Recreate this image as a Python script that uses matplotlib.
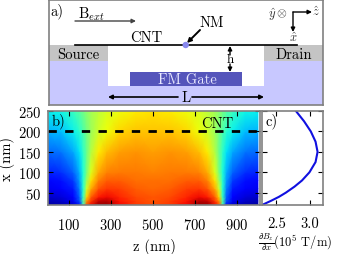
import numpy as np
import matplotlib
matplotlib.use('Agg')
import matplotlib.pyplot as plt
from matplotlib.patches import Rectangle, Circle

plt.rcParams['font.family'] = ['cmr10', 'DejaVu Serif']
plt.rcParams['mathtext.fontset'] = 'cm'
plt.rcParams['axes.unicode_minus'] = False
plt.rcParams['axes.formatter.use_mathtext'] = True

# heat map, read by eye from the colours (left half, the right half mirrors it)
z_half = [0, 60, 120, 150, 168, 185, 205, 240, 280, 340, 420, 500]
x_rows = [20, 30, 40, 60, 80, 100, 150, 200, 250]
field_half = [
    [.03, .04, .07, .14, .42, .82, .90, .98, .98, .90, .85, .83],
    [.05, .06, .10, .20, .46, .76, .85, .94, .95, .89, .84, .82],
    [.07, .08, .12, .22, .42, .69, .81, .88, .90, .87, .83, .82],
    [.10, .11, .15, .25, .40, .60, .73, .82, .85, .84, .81, .80],
    [.13, .14, .18, .28, .40, .54, .67, .77, .81, .81, .79, .79],
    [.16, .17, .22, .30, .39, .50, .62, .73, .77, .78, .78, .77],
    [.23, .24, .29, .35, .41, .48, .57, .66, .71, .74, .75, .74],
    [.30, .31, .36, .40, .44, .49, .54, .60, .64, .68, .70, .70],
    [.36, .37, .42, .46, .49, .52, .55, .58, .61, .64, .66, .67],
]

# line cut in panel c
cut_x = [20, 30, 40, 50, 65, 80, 100, 125, 150, 175, 200, 225, 250]
cut_grad = [2.29, 2.42, 2.54, 2.64, 2.77, 2.88, 2.99, 3.08, 3.11, 3.08, 3.01, 2.91, 2.79]

z_ticks = [100, 300, 500, 700, 900]
x_ticks = [50, 100, 150, 200, 250]
grad_ticks = [2.5, 3.0]

W, H = 340, 255
GRAY = '#808080'
fig = plt.figure(figsize=(W / 100, H / 100), dpi=100)

def px_axes(left, top, right, bottom):
    return fig.add_axes([left / W, 1 - bottom / H, (right - left) / W, (bottom - top) / H])

def style_spines(ax):
    for s in ax.spines.values():
        s.set_color(GRAY)
        s.set_linewidth(1.2)

# a) device sketch, drawn in pixel coordinates
ax_a = px_axes(49, 1, 323, 106)
ax_a.set_xlim(49, 323)
ax_a.set_ylim(106, 1)
ax_a.set_xticks([])
ax_a.set_yticks([])
style_spines(ax_a)

sub_col = '#c8c8ff'
ax_a.add_patch(Rectangle((49, 62), 59, 44, fc=sub_col, ec='none'))
ax_a.add_patch(Rectangle((264, 62), 59, 44, fc=sub_col, ec='none'))
ax_a.add_patch(Rectangle((108, 87), 156, 19, fc=sub_col, ec='none'))
ax_a.add_patch(Rectangle((49, 46), 59, 16, fc='#c4c4c4', ec='none'))
ax_a.add_patch(Rectangle((264, 46), 59, 16, fc='#c4c4c4', ec='none'))
ax_a.add_patch(Rectangle((130, 73), 112, 14, fc='#5555bb', ec='none'))
ax_a.plot([75, 297], [45.5, 45.5], color='k', lw=1.2)
ax_a.add_patch(Circle((185.7, 46), 3.2, fc='#8888ee', ec='none', zorder=3))

def arrow(p0, p1, color='k', lw=1.0):
    ax_a.annotate('', xy=p1, xytext=p0,
                  arrowprops=dict(arrowstyle='-|>', color=color, lw=lw, mutation_scale=6,
                                  shrinkA=0, shrinkB=0))

arrow((75, 22), (136, 22), color='#444444')
arrow((200, 31), (187, 44), lw=1.4)
arrow((230, 56), (230, 47))
arrow((230, 65), (230, 73))
arrow((178, 98), (108, 98), lw=1.2)
arrow((192, 98), (264, 98), lw=1.2)
arrow((293, 13), (312, 13))
arrow((293, 13), (293, 33))

fs = 10.5
def label(x, y, s, size=fs, color='k'):
    ax_a.text(x, y, s, ha='center', va='center', fontsize=size, color=color)

label(57, 11, 'a)')
label(91, 14, r'B$_{ext}$')
label(212, 23, 'NM')
label(146, 38, 'CNT')
label(78, 55, 'Source')
label(294, 55, 'Drain')
label(230, 60, 'h', size=9.5)
label(187, 80, 'FM Gate', color='#e8e8ff')
label(186, 98, 'L')
label(278, 15, r'$\hat{y}\otimes$', size=9, color='#333333')
label(316, 12, r'$\hat{z}$', size=9, color='#333333')
label(293, 38, r'$\hat{x}$', size=9, color='#333333')

# b) field map
field_half = np.array(field_half)
z_all = np.r_[z_half, 1000 - np.array(z_half[-2::-1])]
field = np.hstack([field_half, field_half[:, -2::-1]])

ax_b = px_axes(48, 112, 260, 206)
ax_b.pcolormesh(z_all, x_rows, field, cmap='jet', vmin=0, vmax=1, shading='gouraud', rasterized=True)
ax_b.axhline(200, color='k', lw=2, dashes=(3, 3))
ax_b.set_xlim(0, 1010)
ax_b.set_ylim(20, 250)
ax_b.set_xticks(z_ticks)
ax_b.set_yticks(x_ticks)
ax_b.tick_params(direction='in', length=3.5, width=0.8, labelsize=fs, top=True, right=True, pad=5)
ax_b.tick_params(axis='x', pad=9)
ax_b.set_xlabel('z (nm)', fontsize=fs, labelpad=4)
ax_b.set_ylabel('x (nm)', fontsize=fs, labelpad=2)
ax_b.text(0.015, 0.9, 'b)', transform=ax_b.transAxes, fontsize=fs, va='center')
ax_b.text(0.80, 0.87, 'CNT', transform=ax_b.transAxes, fontsize=fs, ha='center', va='center')
style_spines(ax_b)

# c) line cut
ax_c = px_axes(262, 112, 323, 206)
ax_c.plot(cut_grad, cut_x, color='#1010e0', lw=1.5)
ax_c.set_xlim(2.29, 3.19)
ax_c.set_ylim(20, 250)
ax_c.set_xticks(grad_ticks)
ax_c.set_xticklabels(['2.5', '3.0'])
ax_c.set_yticks(x_ticks)
ax_c.tick_params(direction='in', length=3.5, width=0.8, labelsize=fs, top=True, right=True, labelleft=False)
ax_c.tick_params(axis='x', pad=8)
ax_c.text(0.06, 0.9, 'c)', transform=ax_c.transAxes, fontsize=fs, va='center')
style_spines(ax_c)
fig.text(295 / W, 1 - 242.5 / H, r'$\frac{\partial B_z}{\partial x}$(10$^5$ T/m)', fontsize=9,
         ha='center', va='center')

fig.savefig('out.png', dpi=100)
